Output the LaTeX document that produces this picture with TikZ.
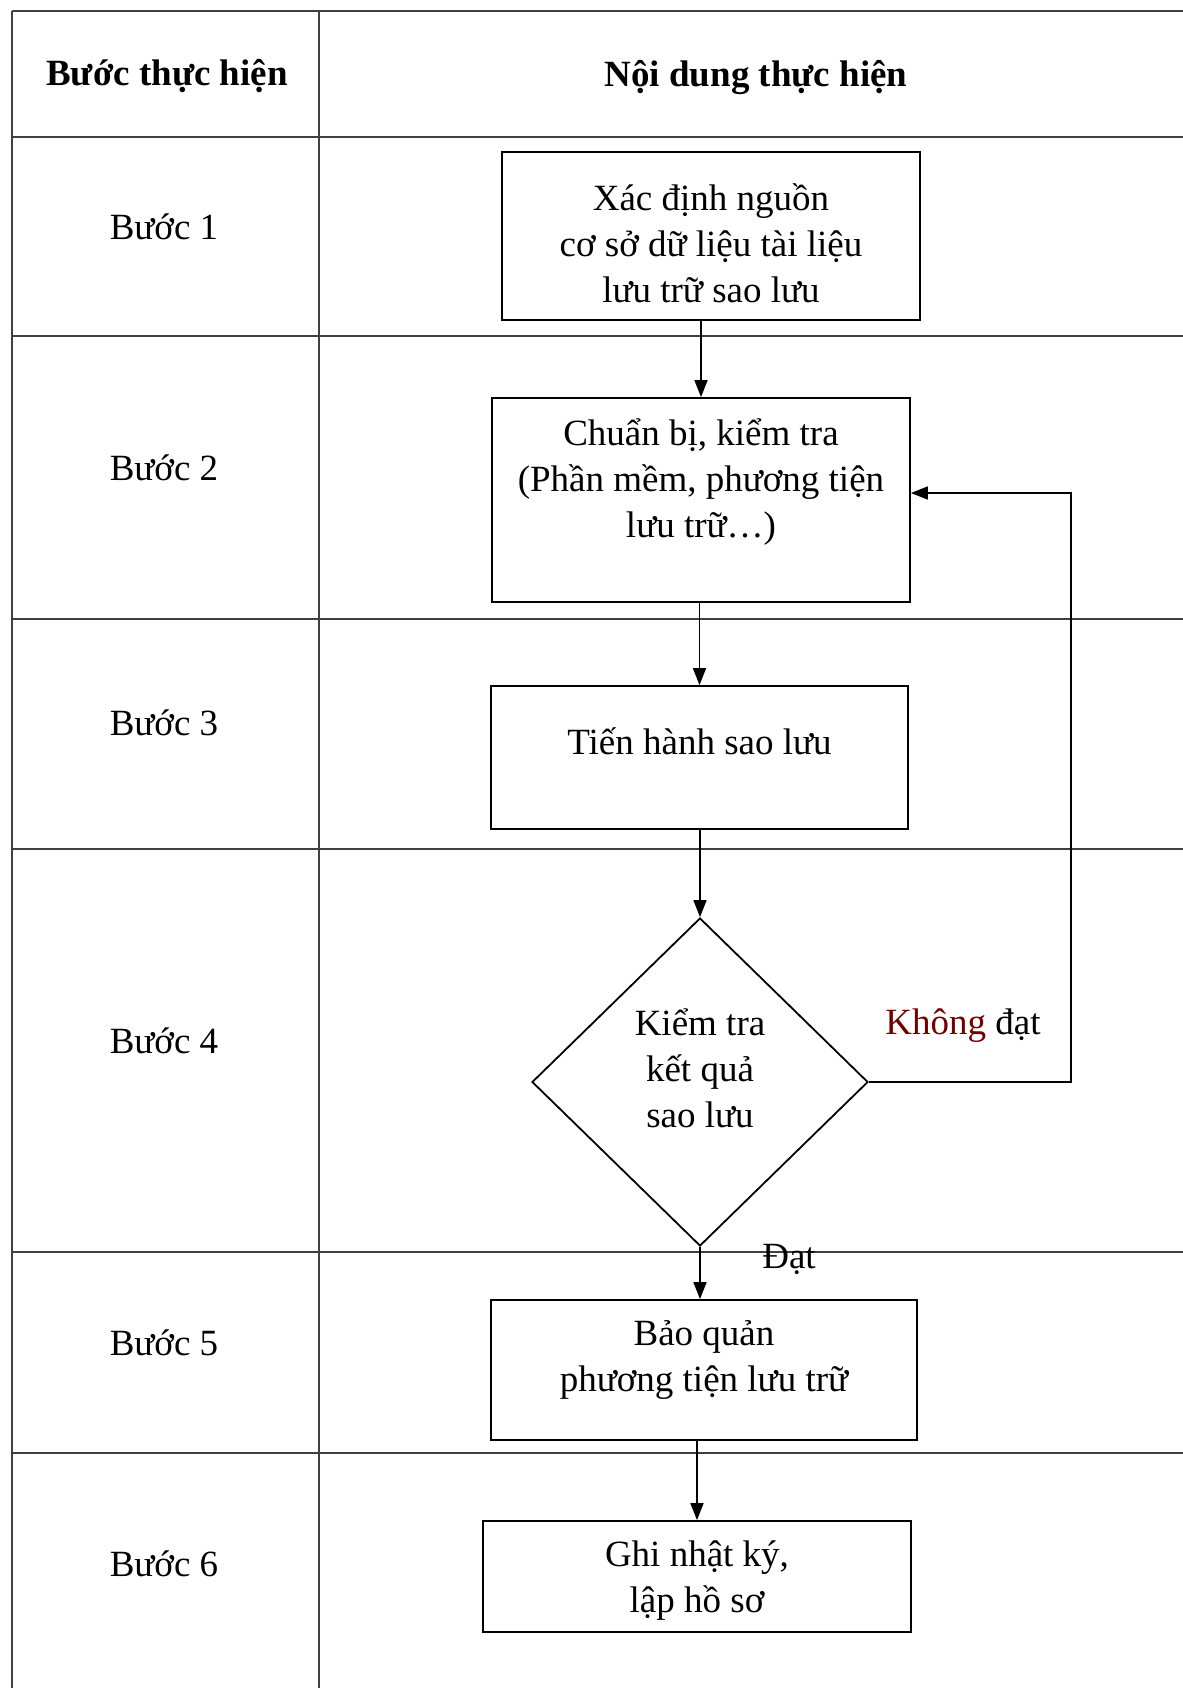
\documentclass[tikz,border=0pt]{standalone}
\usepackage{fontspec}
\setmainfont{Liberation Serif}
\usetikzlibrary{arrows.meta,shapes.geometric}

\newcommand{\boxfont}{\fontsize{18.5}{23}\selectfont}

\begin{document}
\begin{tikzpicture}[x=0.5pt, y=-0.5pt,
    % Style for the table grid lines
    grid/.style={black!75, line width=0.6pt},
    % Style for the process boxes (frame only)
    box/.style={rectangle, draw=black, line width=0.9pt, inner sep=0pt},
    % Style for the decision diamond
    dec/.style={diamond, draw=black, line width=0.9pt, inner sep=0pt},
    % Style for the texts
    txt/.style={font=\boxfont, align=center, inner sep=0pt},
    % Style for the flow arrows
    flow/.style={-{Triangle[length=8.5pt, width=6.5pt]}, line width=0.8pt}
]

\useasboundingbox (0,0) rectangle (1183,1688);

% ==========================
% Table grid
% ==========================
\foreach \y in {11, 137, 336, 619, 849, 1252, 1453}
    \draw[grid] (12,\y) -- (1183,\y);
\draw[grid] (12,11) -- (12,1688);
\draw[grid] (319,11) -- (319,1688);

% Header row
\node[txt, font=\boxfont\bfseries] (h1) at (167,76) {Bước thực hiện};
\node[txt, font=\boxfont\bfseries] (h2) at (756,78) {Nội dung thực hiện};

% Step labels in the left column
\foreach \i/\y in {1/227, 2/468, 3/723, 4/1041, 5/1343, 6/1564}
    \node[txt] (s\i) at (164,\y) {Bước \i};

% ==========================
% Flow chart
% ==========================
\node[box, minimum width=209pt, minimum height=84pt] (b1) at (711,236) {};
\node[txt] (t1) at ([yshift=-3.5pt]b1.center) {Xác định nguồn\\cơ sở dữ liệu tài liệu\\lưu trữ sao lưu};

\node[box, minimum width=209pt, minimum height=102pt] (b2) at (701,500) {};
\node[txt] (t2) at ([yshift=9pt]b2.center) {Chuẩn bị, kiểm tra\\(Phần mềm, phương tiện\\lưu trữ…)};

\node[box, minimum width=208.5pt, minimum height=71.5pt] (b3) at (699.5,757.5) {};
\node[txt] (t3) at ([yshift=8pt]b3.center) {Tiến hành sao lưu};

\node[dec, minimum width=168pt, minimum height=164pt] (dia) at (700,1082) {};
\node[txt] (t4) at ([yshift=7pt]dia.center) {Kiểm tra\\kết quả\\sao lưu};

\node[box, minimum width=213pt, minimum height=70pt] (b5) at (704,1370) {};
\node[txt] (t5) at ([yshift=5pt]b5.center) {Bảo quản\\phương tiện lưu trữ};

\node[box, minimum width=214pt, minimum height=55.5pt] (b6) at (697,1576.5) {};
\node[txt] (t6) at ([yshift=-2pt]b6.center) {Ghi nhật ký,\\lập hồ sơ};

% Main flow arrows
\draw[flow] (b1.south -| b2.north) -- (b2.north);
\draw[flow] (b2.south -| b3.north) -- (b3.north);
\draw[flow] (b3.south -| dia.north) -- (dia.north);
\draw[flow] (dia.south) -- (dia.south |- b5.north);
\draw[flow] (b5.south -| b6.north) -- (b6.north);

% Feedback loop when the check fails
\coordinate (fb) at (1071,1082);
\draw[flow] (dia.east) -- (fb) |- ([yshift=3.5pt]b2.east);

% Branch labels
\node[txt] (kd) at (963,1026) {{\color{red!45!black}Không} đạt};
\node[txt] (dat) at (789,1259) {Đạt};

\end{tikzpicture}
\end{document}
